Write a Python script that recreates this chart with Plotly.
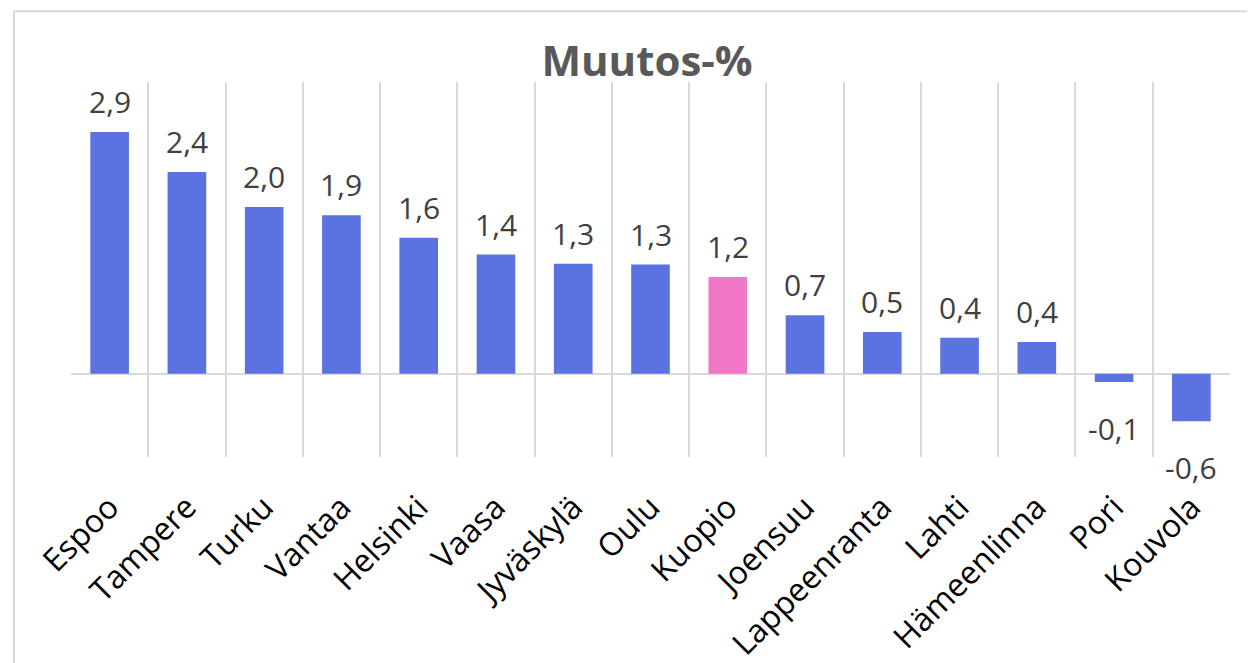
import plotly.graph_objects as go

# Kaupungit ja muutos-%
kaupungit = ["Espoo", "Tampere", "Turku", "Vantaa", "Helsinki", "Vaasa", "Jyväskylä",
             "Oulu", "Kuopio", "Joensuu", "Lappeenranta", "Lahti", "Hämeenlinna",
             "Pori", "Kouvola"]
muutos = [2.9, 2.42, 2.0, 1.9, 1.63, 1.43, 1.32, 1.31, 1.16, 0.7, 0.5, 0.43, 0.38, -0.1, -0.57]
korostus = "Kuopio"

BLUE = "#5A73E0"
PINK = "#F178C8"
FONT = "Open Sans"

colors = [PINK if k == korostus else BLUE for k in kaupungit]

fig = go.Figure(go.Bar(
    x=kaupungit, y=muutos,
    marker=dict(color=colors, line=dict(width=0)),
    width=0.5,
))

# arvot palkkien päälle / alle
for k, v in zip(kaupungit, muutos):
    txt = f"{v:.1f}".replace(".", ",")
    fig.add_annotation(
        x=k, y=v, text=txt, showarrow=False,
        yanchor="bottom" if v >= 0 else "top",
        yshift=8 if v >= 0 else -24,
        font=dict(family=FONT, size=30, color="#404040"),
    )

# ulkoreunus
fig.add_shape(type="rect", xref="paper", yref="paper",
              x0=-0.0492, x1=1.05, y0=-0.7, y1=1.189,
              line=dict(color="#D9D9D9", width=2), fillcolor="rgba(0,0,0,0)",
              layer="below")

fig.update_layout(
    width=1255, height=663,
    margin=dict(l=63, r=33, t=74, b=214),
    paper_bgcolor="white", plot_bgcolor="white",
    showlegend=False,
    title=dict(text="<b>Muutos-%</b>", x=0.497, xanchor="center", xref="paper",
               y=0.919, yanchor="middle",
               font=dict(family=FONT, size=42, color="#595959")),
    font=dict(family=FONT),
)
fig.update_xaxes(
    tickson="boundaries", showgrid=True, gridcolor="#D9D9D9", gridwidth=2,
    ticks="", tickangle=-45, ticklabelstandoff=24,
    tickfont=dict(family=FONT, size=32, color="black"),
    showline=False, zeroline=False, automargin=False,
)
fig.update_yaxes(
    range=[-1, 3.5], showgrid=False, showticklabels=False,
    zeroline=True, zerolinecolor="#D9D9D9", zerolinewidth=2,
)

fig.write_html("out.html")
